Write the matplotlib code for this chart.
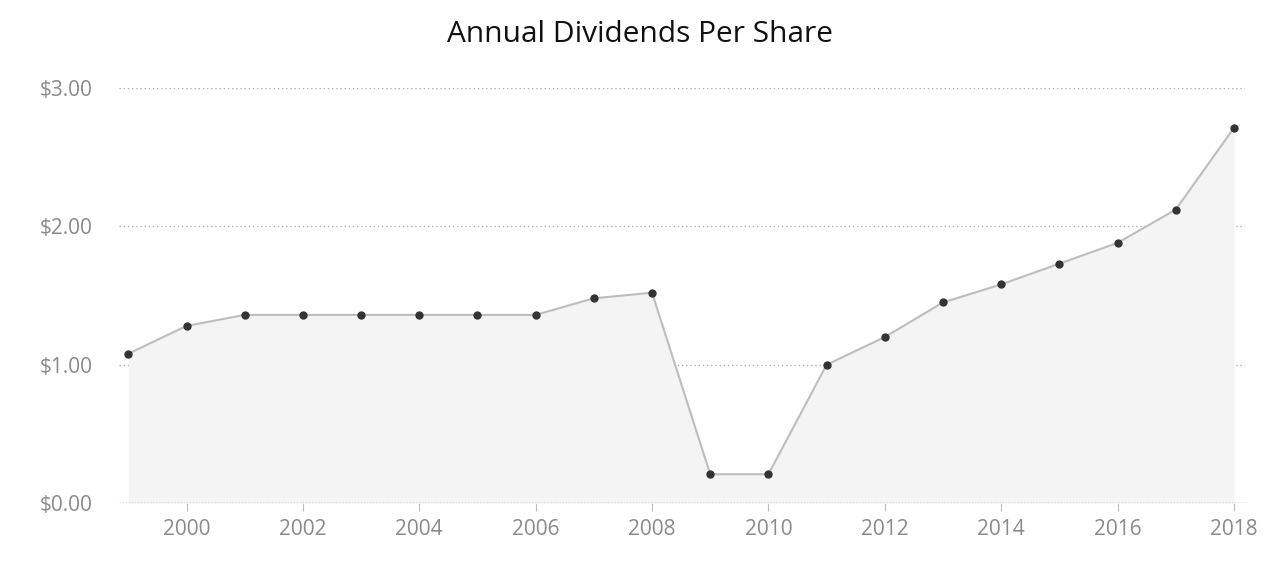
import matplotlib
matplotlib.use("Agg")
import matplotlib.pyplot as plt
from matplotlib.ticker import FuncFormatter

years = [1999, 2000, 2001, 2002, 2003, 2004, 2005, 2006, 2007, 2008,
         2009, 2010, 2011, 2012, 2013, 2014, 2015, 2016, 2017, 2018]
dividends = [1.08, 1.28, 1.36, 1.36, 1.36, 1.36, 1.36, 1.36, 1.48, 1.52,
             0.21, 0.21, 1.00, 1.20, 1.45, 1.58, 1.73, 1.88, 2.12, 2.71]
x_ticks = [2000, 2002, 2004, 2006, 2008, 2010, 2012, 2014, 2016, 2018]
y_ticks = [0.0, 1.0, 2.0, 3.0]
title = "Annual Dividends Per Share"

plt.rcParams['font.family'] = ['Open Sans', 'DejaVu Sans']

fig = plt.figure(figsize=(12.8, 5.72), dpi=100)
ax = fig.add_axes([119/1280, 1 - 503.3/572, (1245-119)/1280, (503.3-87.7)/572])

for yv in y_ticks[1:]:
    ax.axhline(yv, color='#b0b0b0', lw=1, ls=(0, (1, 2)), zorder=1)
ax.axhline(0, color='#666666', lw=1, ls=(0, (1, 1.2)), zorder=4)

ax.fill_between(years, dividends, 0, color='#f4f4f4', zorder=2, lw=0)
ax.plot(years, dividends, color='#bdbdbd', lw=1.5, zorder=3,
        marker='o', markersize=5, markerfacecolor='#333333',
        markeredgecolor='#333333')

ax.set_xlim(1998.84, 2018.19)
ax.set_ylim(0, 3)
ax.set_xticks(x_ticks)
ax.set_yticks(y_ticks)
ax.yaxis.set_major_formatter(FuncFormatter(lambda v, p: f"${v:.2f}"))
for s in ax.spines.values():
    s.set_visible(False)
ax.tick_params(axis='x', length=6, color='#bbbbbb', labelcolor='#8a8a8a',
               labelsize=15, pad=5)
ax.tick_params(axis='y', length=0, labelcolor='#8a8a8a', labelsize=15, pad=19)
ax.set_facecolor('white')

fig.text(0.5, 1 - 34/572, title, ha='center', va='center', fontsize=21.5,
         color='#111111')

fig.savefig('out.png', dpi=100)
